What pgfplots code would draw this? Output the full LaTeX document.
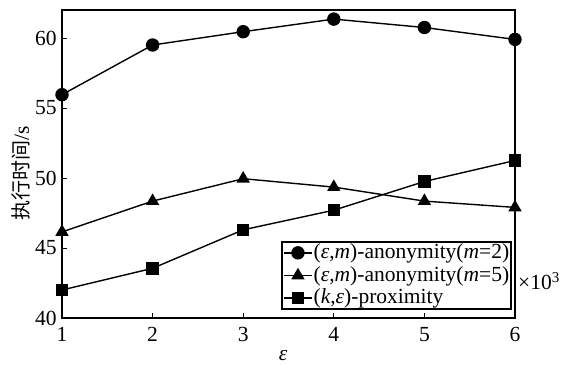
\documentclass[border=0pt]{standalone}
\usepackage{fontspec}
\setmainfont{Liberation Serif}
\newfontfamily\cjk{Noto Sans CJK SC}
\usepackage{pgfplots}
\pgfplotsset{compat=1.18}
\pgfplotstableread{
x c t s
1 55.95 46.15 42.0
2 59.5 48.35 43.55
3 60.45 49.95 46.3
4 61.35 49.35 47.7
5 60.75 48.35 49.75
6 59.9 47.9 51.25
}\datatable
\begin{document}
\fontsize{21.5}{25}\selectfont
\begin{tikzpicture}
\useasboundingbox (-62pt,-47pt) rectangle (501pt,318pt);
\begin{axis}[
 at={(0,0)}, anchor=south west,
 scale only axis, width=453pt, height=308pt,
 xmin=1, xmax=6, ymin=40, ymax=62,
 xtick={1,...,6}, ytick={40,45,...,60},
 tick align=inside, xtick pos=bottom, ytick pos=left,
 major tick length=5pt,
 tick style={line width=1pt, black},
 axis line style={line width=1.6pt},
 /pgf/number format/assume math mode=true,
 ticklabel style={font=\fontsize{21.5}{25}\selectfont},
 xticklabel style={yshift=-2pt},
 yticklabel style={xshift=2pt},
 xlabel={\textit{ε}},
 ylabel={{\cjk\fontsize{20}{24}\selectfont 执行时间}/s},
 x label style={at={(axis description cs:0.488,-0.123)}, anchor=center, font=\fontsize{21.5}{25}\selectfont},
 y label style={at={(axis description cs:-0.09,0.471)}, anchor=center, font=\fontsize{21.5}{25}\selectfont},
 legend style={at={(0.9934,0.026)}, anchor=south east, draw=black, line width=1.6pt,
   font=\fontsize{21.5}{25}\selectfont, inner xsep=1pt, inner ysep=1pt, row sep=2.5pt,
   nodes={inner xsep=1pt, inner ysep=1pt}},
 legend cell align=left,
 legend image code/.code={\draw[mark repeat=2,mark phase=2] plot coordinates {(0pt,0pt) (14pt,0pt) (28pt,0pt)};},
 clip=false,
]
\addplot[black, line width=1.4pt, mark=*, mark size=6pt, mark options={solid}] table[x=x,y=c] {\datatable};
\addlegendentry{(\textit{ε},\textit{m})-anonymity(\textit{m}=2)}
\addplot[black, line width=1.4pt, mark=triangle*, mark size=6.3pt, mark options={solid}] table[x=x,y=t] {\datatable};
\addlegendentry{(\textit{ε},\textit{m})-anonymity(\textit{m}=5)}
\addplot[black, line width=1.4pt, mark=square*, mark size=5.5pt, mark options={solid}] table[x=x,y=s] {\datatable};
\addlegendentry{(\textit{k},\textit{ε})-proximity}
\node[anchor=south west, inner sep=0pt, font=\fontsize{21.5}{25}\selectfont] at (rel axis cs:1,0) [xshift=3pt, yshift=28pt] {×10\textsuperscript{3}};
\end{axis}
\end{tikzpicture}
\end{document}
